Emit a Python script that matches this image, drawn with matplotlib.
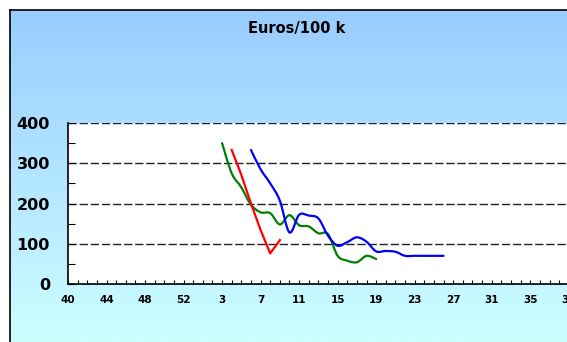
import numpy as np
import matplotlib
matplotlib.use("Agg")
import matplotlib.pyplot as plt
from matplotlib.path import Path
from matplotlib.patches import PathPatch

# week numbers on the category axis (2004 had a week 53)
weeks = list(range(40, 54)) + list(range(1, 40))

# series: first week index where each one starts, then the values
green_start = 16   # week 3
green = [350, 275, 240, 197, 178, 176, 148, 171, 146, 143, 126, 124, 70, 58, 54, 70, 62]

red_start = 17     # week 4
red = [333, 271, 200, 134, 76, 109]

blue_start = 19    # week 6
blue = [333, 285, 250, 207, 128, 172, 170, 163, 120, 95, 104, 116, 105, 81, 82, 80,
        70, 70, 70, 70, 70]

title = "Euros/100 k"


def smooth_path(x, y):
    # excel style smoothed line: catmull-rom turned into bezier segments
    pts = np.column_stack([x, y]).astype(float)
    n = len(pts)
    verts = [pts[0]]
    codes = [Path.MOVETO]
    for i in range(n - 1):
        p0 = pts[i - 1] if i > 0 else pts[i]
        p1 = pts[i]
        p2 = pts[i + 1]
        p3 = pts[i + 2] if i + 2 < n else pts[i + 1]
        c1 = p1 + (p2 - p0) / 6.0
        c2 = p2 - (p3 - p1) / 6.0
        verts += [c1, c2, p2]
        codes += [Path.CURVE4] * 3
    return Path(verts, codes)


W, H = 567, 342
fig = plt.figure(figsize=(W / 100, H / 100), dpi=100)

# gradient frame behind everything
bg = fig.add_axes([10 / W, 0, 1 - 10 / W, 1 - 10 / H])
grad = np.linspace(0, 1, 256).reshape(-1, 1)
top_col = np.array([0x99, 0xCC, 0xFF]) / 255
bot_col = np.array([0xCC, 0xFF, 0xFF]) / 255
img = top_col[None, None, :] * (1 - grad[:, :, None]) + bot_col[None, None, :] * grad[:, :, None]
bg.imshow(img, aspect="auto", extent=[0, 1, 0, 1])
bg.set_xticks([])
bg.set_yticks([])
bg.spines["right"].set_visible(False)
bg.spines["bottom"].set_visible(False)
bg.spines["left"].set_linewidth(1.2)
bg.spines["top"].set_linewidth(1.2)

fig.text(297 / W, 1 - 28 / H, title, ha="center", va="center",
         fontsize=10.5, fontweight="bold", family="DejaVu Sans")

# plot area
px_per_week = 9.63
n_shown = 52
ax = fig.add_axes([68 / W, 1 - 284 / H, n_shown * px_per_week / W, (284 - 123) / H])
ax.set_facecolor("white")
ax.set_xlim(0, n_shown)
ax.set_ylim(0, 400)

for start, vals, col in [(green_start, green, "#008000"),
                         (blue_start, blue, "#0000FF")]:
    xs = np.arange(start, start + len(vals))
    ax.add_patch(PathPatch(smooth_path(xs, vals), facecolor="none", edgecolor=col,
                           lw=1.6, zorder=3, capstyle="round", joinstyle="round"))

# red one is drawn straight, sharp corner at the bottom
ax.plot(np.arange(red_start, red_start + len(red)), red, color="#FF0000", lw=1.6, zorder=3)

ax.set_yticks([0, 100, 200, 300, 400])
ax.set_yticks([50, 150, 250, 350], minor=True)
ax.set_yticklabels(["0", "100", "200", "300", "400"], fontsize=11.5, fontweight="bold",
                   family="DejaVu Sans")
for v in [100, 200, 300, 400]:
    ax.axhline(v, color="#222222", lw=1.0, ls=(0, (6, 2)), zorder=1)

ax.set_xticks(np.arange(0, n_shown + 1))
ax.set_xticklabels([str(w) if i % 4 == 0 else "" for i, w in enumerate(weeks[:n_shown + 1])],
                   fontsize=7.5, fontweight="bold", family="DejaVu Sans")
ax.tick_params(axis="x", direction="in", length=3, width=0.8, pad=8)
ax.tick_params(axis="y", which="both", direction="in", length=5, width=0.8, pad=13)

ax.spines["top"].set_visible(False)
ax.spines["right"].set_visible(False)
ax.spines["left"].set_linewidth(1.2)
ax.spines["bottom"].set_linewidth(1.2)

fig.savefig("out.png", dpi=100)
